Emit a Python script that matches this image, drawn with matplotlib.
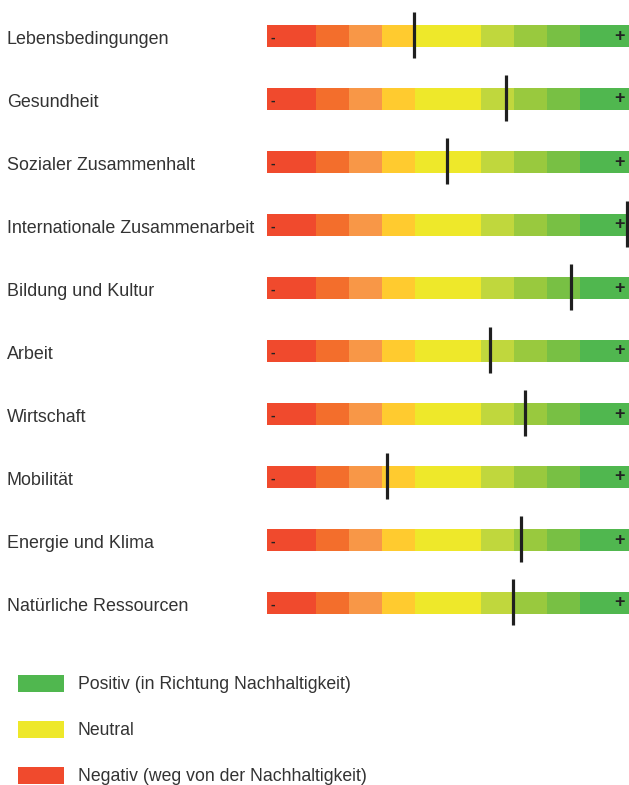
import numpy as np
import matplotlib
matplotlib.use("Agg")
import matplotlib.pyplot as plt
from matplotlib.patches import Patch
from matplotlib.transforms import blended_transform_factory

plt.rcParams['font.family'] = ['Liberation Sans', 'DejaVu Sans']

# topics (top to bottom) and where each one sits on the 0..11 scale
topics = [
    "Lebensbedingungen",
    "Gesundheit",
    "Sozialer Zusammenhalt",
    "Internationale Zusammenarbeit",
    "Bildung und Kultur",
    "Arbeit",
    "Wirtschaft",
    "Mobilität",
    "Energie und Klima",
    "Natürliche Ressourcen",
]
scores = [4.48, 7.26, 5.48, 10.95, 9.25, 6.77, 7.85, 3.65, 7.73, 7.48]

# colour band of the scale: segment edges and colours (red -> green)
band_edges = [0, 1.5, 2.5, 3.5, 4.5, 6.5, 7.5, 8.5, 9.5, 11]
band_colors = ["#F04A2D", "#F36E2C", "#F89747", "#FFCB2F", "#EEE82A",
               "#C0D73D", "#99C93E", "#78C044", "#50B74F"]

legend_labels = ["Positiv (in Richtung Nachhaltigkeit)", "Neutral",
                 "Negativ (weg von der Nachhaltigkeit)"]
legend_colors = ["#50B74F", "#EEE82A", "#F04A2D"]

W, H = 629, 785
fig = plt.figure(figsize=(W / 100, H / 100), dpi=100)
ax = fig.add_axes([267 / W, 1 - 634.5 / H, 362 / W, 630 / H])

rows = np.arange(len(topics))
widths = np.diff(band_edges)
for left, w, c in zip(band_edges[:-1], widths, band_colors):
    ax.barh(rows, w, left=left, height=0.35, color=c, linewidth=0)

ax.vlines(scores, rows - 0.38, rows + 0.35, color="#1f1f1f", linewidth=2.3,
          clip_on=False, zorder=5)

for r in rows:
    ax.text(0.12, r + 0.02, "-", ha="left", va="center", fontsize=10,
            color="#222222", fontweight="bold")
    ax.text(10.88, r, "+", ha="right", va="center", fontsize=13,
            color="#222222", fontweight="bold")

trans = blended_transform_factory(fig.transFigure, ax.transData)
for r, t in zip(rows, topics):
    ax.text(7 / W, r + 0.03, t, transform=trans, ha="left",
            va="center_baseline", fontsize=12.9, color="#333333")

ax.set_xlim(0, 11)
ax.set_ylim(len(topics) - 0.5, -0.5)
ax.axis("off")

handles = [Patch(facecolor=c, edgecolor="none") for c in legend_colors]
fig.legend(handles, legend_labels, loc="upper left",
           bbox_to_anchor=(18 / W, 1 - 675 / H), bbox_transform=fig.transFigure,
           frameon=False, fontsize=12.7, handlelength=2.6, handleheight=1.1,
           handletextpad=0.78, labelspacing=1.56, borderaxespad=0, borderpad=0,
           labelcolor="#333333")

fig.savefig("out.png", dpi=100)
